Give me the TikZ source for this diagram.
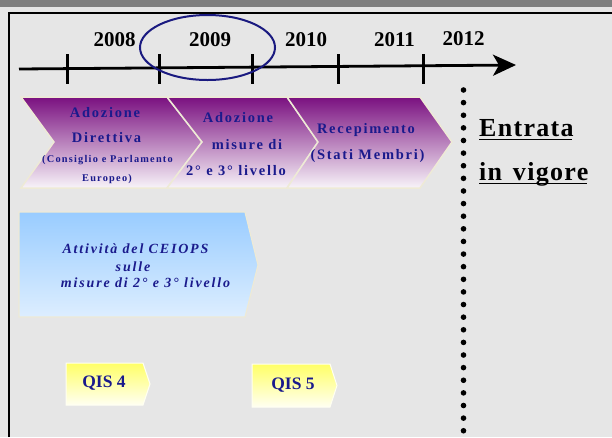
\documentclass[tikz,border=0pt]{standalone}
\usepackage{fontspec}
\setmainfont{Liberation Serif}
\newfontfamily\spacedserif[LetterSpace=12]{Liberation Serif}
\newfontfamily\widerserif[LetterSpace=13]{Liberation Serif}
\newfontfamily\titleserif[LetterSpace=5]{Liberation Serif}
\usetikzlibrary{arrows.meta}

\definecolor{bggray}{HTML}{E6E6E6}
\definecolor{bargray}{HTML}{7F7F7F}
\definecolor{navytext}{HTML}{1A1A8C}
\definecolor{ringblue}{HTML}{1A1A80}
\definecolor{plum}{HTML}{7A1080}
\definecolor{plumlight}{HTML}{F8F4F9}
\definecolor{edgecream}{HTML}{EEEAD6}
\definecolor{skytop}{HTML}{99CCFF}
\definecolor{skybot}{HTML}{DDEEFF}
\definecolor{lemontop}{HTML}{FFFF66}
\definecolor{lemonbot}{HTML}{FFFFF2}

\tikzset{
  yearlabel/.style={font=\bfseries\fontsize{21}{24}\selectfont, inner sep=0pt},
  tickmark/.style={line width=3pt},
  phase/.style={top color=plum, bottom color=plumlight, draw=edgecream, line width=1.5pt},
  ceiops/.style={top color=skytop, bottom color=skybot, draw=edgecream, line width=1.2pt},
  qis/.style={top color=lemontop, bottom color=lemonbot, draw=lemonbot, line width=1pt},
  bigtxt/.style={text=navytext, inner sep=0pt, font=\spacedserif\bfseries\fontsize{14.5}{17}\selectfont},
  smalltxt/.style={text=navytext, inner sep=0pt, font=\spacedserif\bfseries\fontsize{10.3}{12}\selectfont},
  italtxt/.style={text=navytext, inner sep=0pt, font=\widerserif\bfseries\itshape\fontsize{14}{17}\selectfont},
  qistxt/.style={text=navytext, inner sep=0pt, font=\bfseries\fontsize{17.5}{20}\selectfont},
  vigore/.style={inner sep=0pt, anchor=base west, font=\titleserif\bfseries\fontsize{26}{30}\selectfont},
}

\begin{document}
\begin{tikzpicture}[x=1pt,y=-1pt]
  % canvas and frame
  \fill[bggray] (0,0) rectangle (612,437);
  \useasboundingbox (0,0) rectangle (612,437);
  \fill[bargray] (0,0) rectangle (612,7);
  \draw[line width=2.5pt] (9,437) -- (9,13) -- (612,13);

  % timeline
  \coordinate (tlstart) at (19,69);
  \coordinate (tlend) at (516,65);
  \draw[line width=2.8pt, -{Stealth[length=23pt, width=21pt, inset=6pt]}] (tlstart) -- (tlend);
  \foreach \n/\x in {a/67.7, b/159.3, c/252.3, d/338.3, e/423} {
    \coordinate (tick\n top) at (\x,54);
    \coordinate (tick\n bot) at (\x,84);
    \draw[tickmark] (tick\n top) -- (tick\n bot);
  }
  \node[yearlabel] (y2008) at (114.5,40) {2008};
  \node[yearlabel] (y2009) at (210,40) {2009};
  \node[yearlabel] (y2010) at (306,40) {2010};
  \node[yearlabel] (y2011) at (394.5,40) {2011};
  \node[yearlabel] (y2012) at (463.5,38.5) {2012};
  \draw[ringblue, line width=2pt] (207.5,47.5) ellipse [x radius=67.5, y radius=32.5];

  % legislative phases
  \path[phase] (21,97) -- (167,97) -- (202,142) -- (167,188) -- (21,188) -- (54,142) -- cycle;
  \path[phase] (167,97) -- (287,97) -- (318,142) -- (287,188) -- (167,188) -- (202,142) -- cycle;
  \path[phase] (287,97) -- (420,97) -- (452,142) -- (420,188) -- (287,188) -- (318,142) -- cycle;

  \node[bigtxt] (p1a) at (105,112.5) {Adozione};
  \node[bigtxt] (p1b) at (106.5,138) {Direttiva};
  \node[smalltxt] (p1c) at (107.5,160.5) {(Consiglio e Parlamento};
  \node[smalltxt] (p1d) at (107,179) {Europeo)};

  \node[bigtxt] (p2a) at (238,118) {Adozione};
  \node[bigtxt] (p2b) at (247,145) {misure di};
  \node[bigtxt] (p2c) at (236,170.5) {2° e 3° livello};

  \node[bigtxt] (p3a) at (366,130.5) {Recepimento};
  \node[bigtxt] (p3b) at (367.5,156) {(Stati Membri)};

  % entry into force
  \foreach \k in {0,...,27} {
    \fill (463.5,{90+\k*12.62}) circle [radius=2.8pt];
  }
  \node[vigore] (entrata) at (479,136) {Entrata};
  \node[vigore] (invigore) at (479,180) {in\hspace{3pt} vigore};
  \draw[line width=1.8pt] ([yshift=-3.5pt]entrata.base west) -- ([yshift=-3.5pt,xshift=-1.5pt]entrata.base east);
  \draw[line width=1.8pt] ([yshift=-3.5pt]invigore.base west) -- ([yshift=-3.5pt,xshift=-1.5pt]invigore.base east);

  % CEIOPS work
  \path[ceiops] (19,212) -- (245,212) -- (258,265) -- (245,317) -- (19,317) -- cycle;
  \node[italtxt] (c1) at (135.5,249) {Attività del CEIOPS};
  \node[italtxt] (c2) at (133,267) {sulle};
  \node[italtxt] (c3) at (145.5,283) {misure di 2° e 3° livello};

  % quantitative impact studies
  \path[qis] (66,363) -- (143,363) -- (150,384) -- (143,405) -- (66,405) -- cycle;
  \path[qis] (252,364) -- (330,364) -- (337,385.5) -- (330,407) -- (252,407) -- cycle;
  \node[qistxt] (qis4) at (104,383.5) {QIS 4};
  \node[qistxt] (qis5) at (293,385.5) {QIS 5};
\end{tikzpicture}
\end{document}
